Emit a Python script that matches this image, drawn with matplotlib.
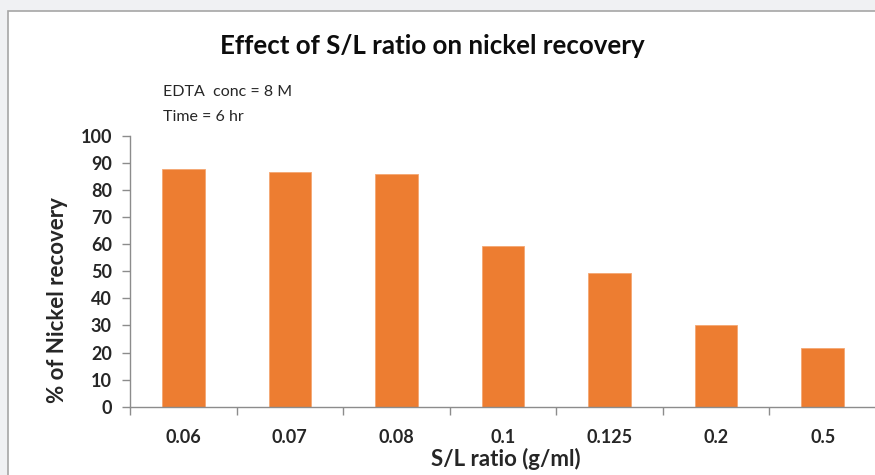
import matplotlib
matplotlib.use("Agg")
import matplotlib.pyplot as plt
from matplotlib.patches import Rectangle

# Data
categories = ["0.06", "0.07", "0.08", "0.1", "0.125", "0.2", "0.5"]
recovery = [87.7, 86.6, 86.0, 59.5, 49.5, 30.1, 21.8]
y_ticks = [0, 10, 20, 30, 40, 50, 60, 70, 80, 90, 100]

W, H = 875, 475
plt.rcParams["font.family"] = ["Lato", "DejaVu Sans"]

fig = plt.figure(figsize=(W / 100, H / 100), dpi=100)
fig.patch.set_facecolor("#f0f1f3")

# white chart panel with a thin grey frame
panel = Rectangle((8 / W, -0.1), 1.2, 1 - 10.5 / H + 0.1, transform=fig.transFigure,
                  facecolor="white", edgecolor="#a6a6a6", linewidth=1.2, zorder=-10)
fig.patches.append(panel)

ax = fig.add_axes([130 / W, 1 - 406.7 / H, 746 / W, (406.7 - 136) / H])
ax.set_facecolor("none")
ax.set_zorder(5)

x = list(range(len(categories)))
ax.bar(x, recovery, width=0.4, color="#ed7d31", edgecolor="#f4a772", linewidth=0.6, zorder=2)

ax.set_xlim(-0.5, len(categories) - 0.5)
ax.set_ylim(0, 100)
ax.set_yticks(y_ticks)
ax.set_yticklabels([str(v) for v in y_ticks], fontsize=13, fontweight="bold", color="#262626")

# category labels centred under bars, ticks between categories
ax.set_xticks([i - 0.5 for i in range(len(categories) + 1)])
ax.set_xticklabels([])
ax.set_xticks(x, minor=True)
ax.set_xticklabels(categories, minor=True, fontsize=13, fontweight="bold", color="#262626")
ax.tick_params(axis="x", which="minor", length=0, pad=16)
ax.tick_params(axis="x", which="major", length=6, width=1, color="#8c8c8c", direction="out")
ax.tick_params(axis="y", length=6, width=1, color="#8c8c8c", direction="out", pad=7)

for side in ["top", "right"]:
    ax.spines[side].set_visible(False)
for side in ["left", "bottom"]:
    ax.spines[side].set_color("#8c8c8c")
    ax.spines[side].set_linewidth(1)

fig.text(432 / W, 1 - 53.5 / H, "Effect of S/L ratio on nickel recovery",
         ha="center", va="baseline", fontsize=18.6, fontweight="bold", color="#0d0d0d")
fig.text(163 / W, 1 - 96 / H, "EDTA  conc = 8 M", ha="left", va="baseline",
         fontsize=11.5, color="#262626")
fig.text(163 / W, 1 - 121 / H, "Time = 6 hr", ha="left", va="baseline",
         fontsize=11.5, color="#262626")
fig.text(506 / W, 1 - 466 / H, "S/L ratio (g/ml)", ha="center", va="baseline",
         fontsize=16, fontweight="bold", color="#262626")
fig.text(58 / W, 1 - 300 / H, "% of Nickel recovery", ha="center", va="center",
         rotation=90, fontsize=16, fontweight="bold", color="#262626")

fig.savefig("out.png", dpi=100, facecolor=fig.get_facecolor())
